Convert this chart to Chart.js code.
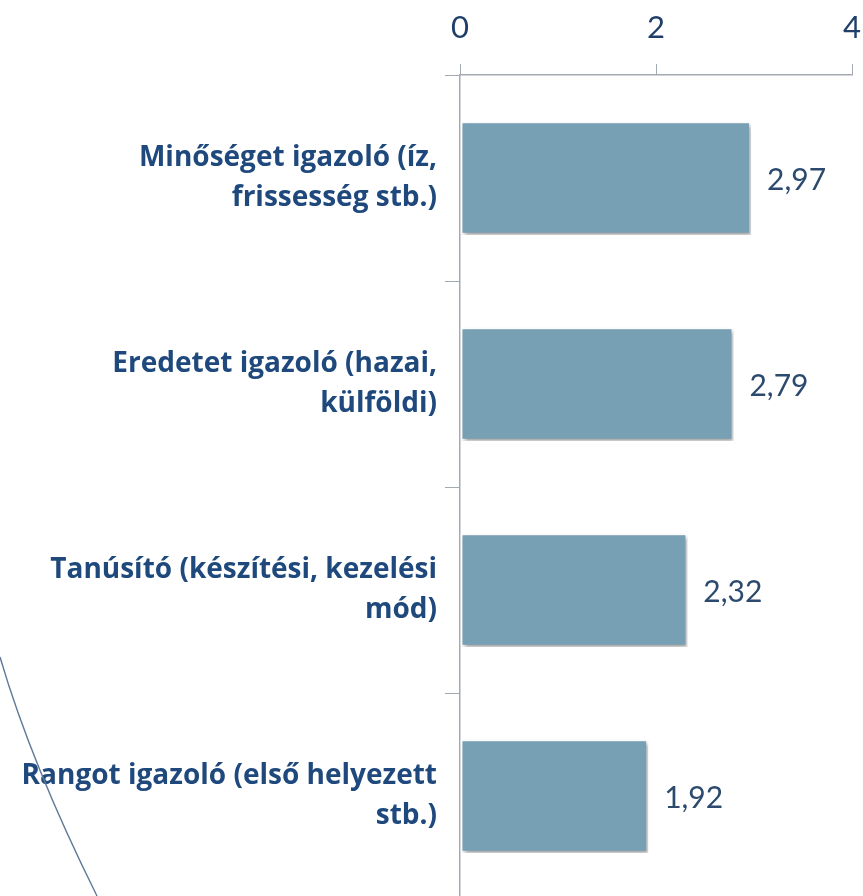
<!DOCTYPE html>
<html>
<head>
<meta charset="utf-8">
<script src="https://cdn.jsdelivr.net/npm/chart.js@4/dist/chart.umd.min.js"></script>
<style>
    html, body { margin: 0; padding: 0; background: #fff; overflow: hidden; }
    #wrap { width: 863px; height: 906px; position: relative; }
</style>
</head>
<body>
<div id="wrap"><canvas id="ratingChart"></canvas></div>
<script>
// chart data
const categories = [
    ['Minőséget igazoló (íz,', 'frissesség stb.)'],
    ['Eredetet igazoló (hazai,', 'külföldi)'],
    ['Tanúsító (készítési, kezelési', 'mód)'],
    ['Rangot igazoló (első helyezett', 'stb.)']
];
const scores = [2.97, 2.79, 2.32, 1.92];
const axisTicks = [0, 2, 4];

const labelBlue = '#1F497D';
const axisGray = '#A3A9B1';

// value labels next to the bars
const valueLabels = {
    id: 'valueLabels',
    afterDatasetsDraw(chart) {
        const ctx = chart.ctx;
        const meta = chart.getDatasetMeta(0);
        ctx.save();
        ctx.font = '30px Lato, "Open Sans", sans-serif';
        ctx.fillStyle = '#2C4A6E';
        ctx.textAlign = 'left';
        ctx.textBaseline = 'middle';
        meta.data.forEach((bar, i) => {
            ctx.fillText(scores[i].toFixed(2).replace('.', ','), bar.x + 16, bar.y + 2);
        });
        ctx.restore();
    }
};

// soft shadow under the bars
const barShadow = {
    id: 'barShadow',
    beforeDatasetDraw(chart) {
        const ctx = chart.ctx;
        ctx.save();
        ctx.shadowColor = 'rgba(0,0,0,0.35)';
        ctx.shadowBlur = 4;
        ctx.shadowOffsetX = 2;
        ctx.shadowOffsetY = 3;
    },
    afterDatasetDraw(chart) {
        chart.ctx.restore();
    }
};

// thin decorative arc from the slide background, bottom left
const slideArc = {
    id: 'slideArc',
    afterDraw(chart) {
        const ctx = chart.ctx;
        ctx.save();
        ctx.strokeStyle = '#5F7A99';
        ctx.lineWidth = 1.4;
        ctx.beginPath();
        ctx.moveTo(0, 657);
        ctx.quadraticCurveTo(31, 763, 97, 896);
        ctx.stroke();
        ctx.restore();
    }
};

function ratingChart() {
    const ctx = document.getElementById('ratingChart').getContext('2d');
    new Chart(ctx, {
        type: 'bar',
        data: {
            labels: categories,
            datasets: [{
                data: scores,
                backgroundColor: '#77A0B4',
                borderColor: '#FFFFFF',
                borderWidth: 2,
                borderSkipped: false,
                categoryPercentage: 1.0,
                barPercentage: 0.55
            }]
        },
        options: {
            indexAxis: 'y',
            responsive: true,
            maintainAspectRatio: false,
            animation: false,
            layout: { padding: { left: 0, right: 11, top: 0, bottom: 7 } },
            plugins: {
                legend: { display: false },
                tooltip: { enabled: false }
            },
            scales: {
                x: {
                    position: 'top',
                    min: 0,
                    max: 4,
                    afterBuildTicks(scale) {
                        scale.ticks = axisTicks.map(v => ({ value: v }));
                    },
                    afterFit(scale) {
                        scale.height = 75;
                        scale.paddingLeft = 0;
                        scale.paddingRight = 0;
                    },
                    grid: {
                        drawOnChartArea: false,
                        drawTicks: true,
                        tickLength: 11,
                        color: axisGray
                    },
                    border: { color: axisGray, width: 1.5 },
                    ticks: {
                        color: '#1F3F6A',
                        font: { family: 'Lato, "Open Sans", sans-serif', size: 31 },
                        padding: 17
                    }
                },
                y: {
                    afterFit(scale) {
                        scale.width = 460;
                        scale.paddingTop = 0;
                        scale.paddingBottom = 0;
                    },
                    grid: {
                        offset: true,
                        drawOnChartArea: false,
                        drawTicks: true,
                        tickLength: 15,
                        color: axisGray
                    },
                    border: { color: axisGray, width: 1.5 },
                    ticks: {
                        color: labelBlue,
                        font: { family: '"Open Sans", Lato, sans-serif', size: 28, weight: 'bold', lineHeight: 1.43 },
                        padding: 8,
                        crossAlign: 'near'
                    }
                }
            }
        },
        plugins: [barShadow, valueLabels, slideArc]
    });
}

window.addEventListener('load', function () {
    ratingChart();
});
</script>
</body>
</html>
